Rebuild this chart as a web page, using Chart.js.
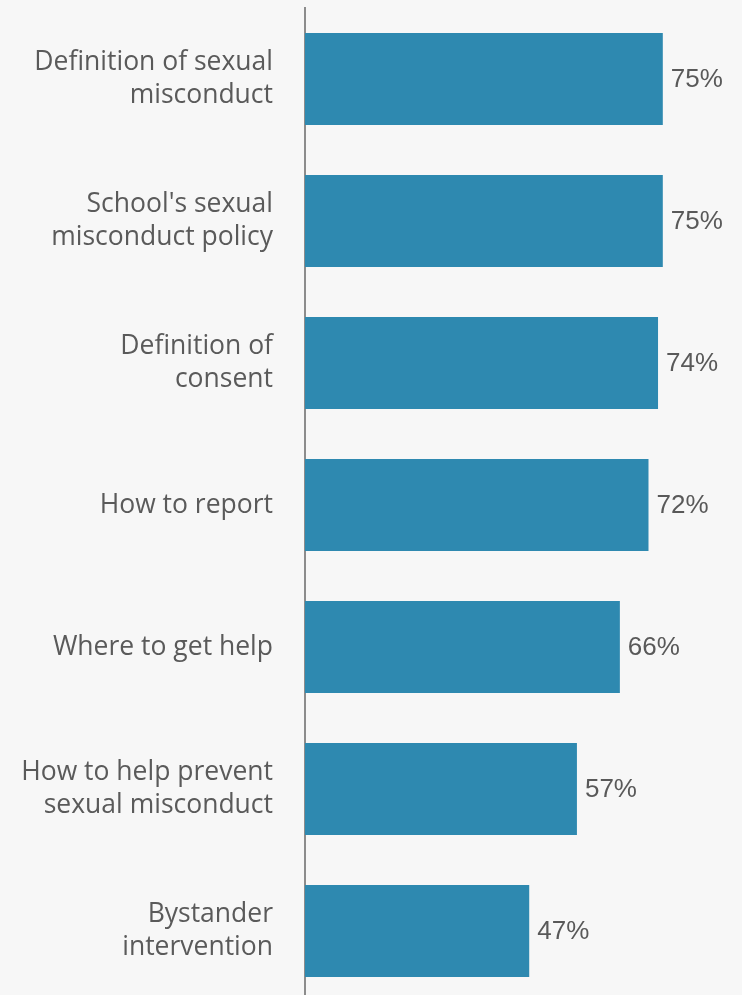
<!DOCTYPE html>
<html>
<head>
<meta charset="utf-8">
<script src="https://cdn.jsdelivr.net/npm/chart.js@4"></script>
<style>
  html, body { margin: 0; padding: 0; background: #f7f7f7; overflow: hidden; }
  #wrap { width: 742px; height: 1002px; position: relative; }
</style>
</head>
<body>
<div id="wrap"><canvas id="topicsChart"></canvas></div>
<script>
  const topics = [
    ['Definition of sexual', 'misconduct'],
    ["School's sexual", 'misconduct policy'],
    ['Definition of', 'consent'],
    'How to report',
    'Where to get help',
    ['How to help prevent', 'sexual misconduct'],
    ['Bystander', 'intervention']
  ];
  const shares = [75, 75, 74, 72, 66, 57, 47];
  const valueLabels = ['75%', '75%', '74%', '72%', '66%', '57%', '47%'];

  // writes the percentage just past the end of each bar
  const barValues = {
    id: 'barValues',
    afterDatasetsDraw(chart) {
      const ctx = chart.ctx;
      const meta = chart.getDatasetMeta(0);
      ctx.save();
      ctx.font = '26px "Liberation Sans", Arial, sans-serif';
      ctx.fillStyle = '#595959';
      ctx.textAlign = 'left';
      ctx.textBaseline = 'middle';
      meta.data.forEach((bar, i) => {
        ctx.fillText(valueLabels[i], bar.x + 8, bar.y + 1);
      });
      ctx.restore();
    }
  };

  const ctx = document.getElementById('topicsChart').getContext('2d');
  new Chart(ctx, {
    type: 'bar',
    data: {
      labels: topics,
      datasets: [{
        data: shares,
        backgroundColor: '#2e89b0',
        borderWidth: 0,
        barPercentage: 1,
        categoryPercentage: 0.648
      }]
    },
    options: {
      indexAxis: 'y',
      responsive: true,
      maintainAspectRatio: false,
      animation: false,
      layout: { padding: { top: 8, right: 0, bottom: 0, left: 0 } },
      plugins: {
        legend: { display: false },
        title: { display: false },
        tooltip: { enabled: false }
      },
      scales: {
        x: { display: false, min: 0, max: 91.6 },
        y: {
          // fixed label column, and no extra room above/below for the labels
          afterFit: (scale) => {
            scale.width = 305;
            scale.paddingTop = 0;
            scale.paddingBottom = 0;
          },
          grid: { display: false, drawTicks: false },
          border: { display: true, color: '#8c8c8c', width: 2 },
          ticks: {
            padding: 32,
            color: '#5a5a5a',
            font: { family: '"Open Sans", sans-serif', size: 26.5, lineHeight: 1.22 }
          }
        }
      }
    },
    plugins: [barValues]
  });
</script>
</body>
</html>
